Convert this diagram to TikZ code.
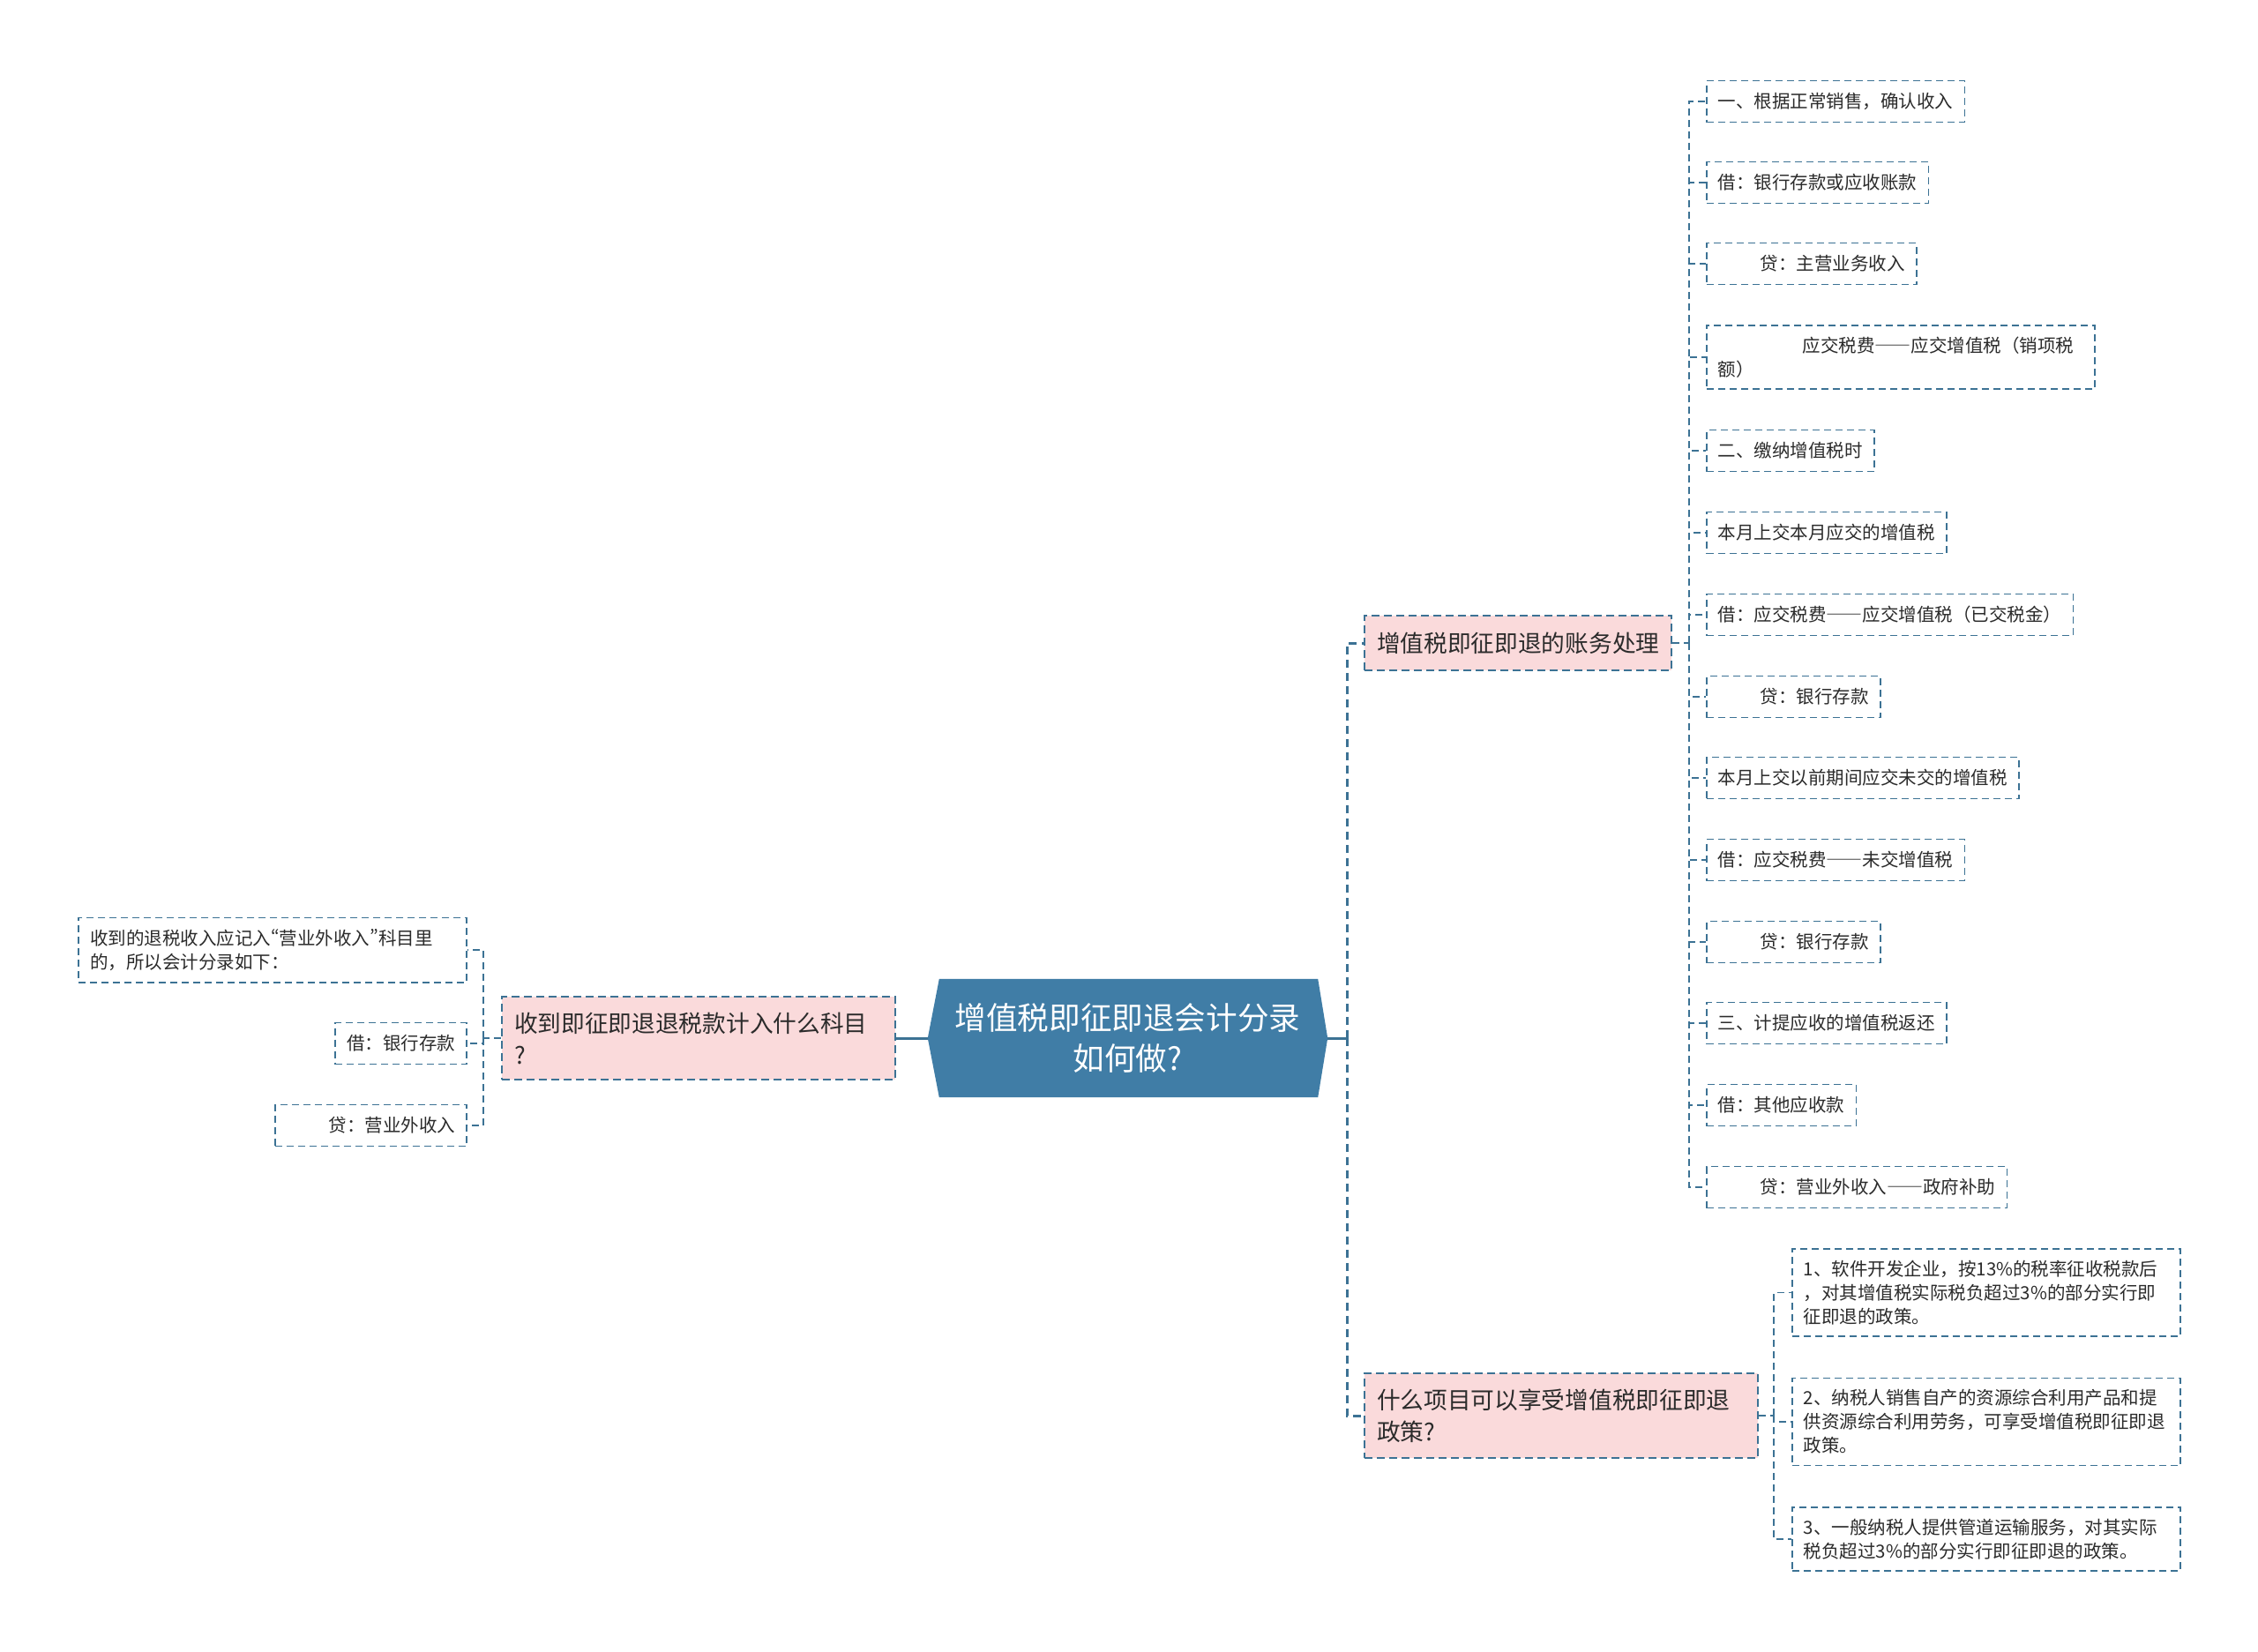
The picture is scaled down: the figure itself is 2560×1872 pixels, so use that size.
\documentclass[tikz,border=0pt]{standalone}
\usepackage{fontspec}
\setmainfont{Noto Sans CJK SC}
\usetikzlibrary{backgrounds}
\definecolor{lc}{HTML}{3C7294}
\definecolor{rootc}{HTML}{407DA6}
\definecolor{pinkc}{HTML}{FADADB}
\definecolor{txt}{HTML}{2B2B2B}
\newcommand{\fwdash}{{\addfontfeatures{CharacterWidth=Full}——}}
\newcommand{\pq}[1]{{\addfontfeatures{CharacterWidth=Proportional}#1}}
\begin{document}
\begin{tikzpicture}[x=1pt,y=-1pt,
  lvtwo/.style={draw=lc, line width=1.8pt, dash pattern=on 8pt off 5pt, inner xsep=13pt, inner ysep=13pt, minimum height=47pt, font=\fontsize{20.5pt}{27pt}\selectfont, text=txt, align=left},
  lvone/.style={draw=lc, fill=pinkc, line width=2pt, dash pattern=on 9pt off 5pt, inner xsep=14pt, inner ysep=17.5pt, minimum height=62pt, font=\fontsize{26.7pt}{36pt}\selectfont, text=txt, align=left},
  rootnode/.style={minimum width=453pt, minimum height=134pt, inner sep=0pt, font=\fontsize{35.6pt}{46pt}\selectfont, text=white, align=center},
  conA/.style={draw=lc, line width=3pt, dash pattern=on 9pt off 6pt},
  conAsolid/.style={draw=lc, line width=3pt},
  conB/.style={draw=lc, line width=1.8pt, dash pattern=on 8pt off 5pt},
]
\useasboundingbox (0,0) rectangle (2560,1872);

% root
\node[rootnode] (root) at (1278.5,1177) {增值税即征即退会计分录\\如何做?};
\begin{scope}[on background layer]
\fill[white] (0,0) rectangle (2560,1872);
\fill[rootc] (root.west) -- ([xshift=13pt]root.north west) -- ([xshift=-11pt]root.north east) -- (root.east) -- ([xshift=-11pt]root.south east) -- ([xshift=13pt]root.south west) -- cycle;
\end{scope}

% level 1
\node[lvone, anchor=west] (n1) at (1546,729) {增值税即征即退的账务处理};
\node[lvone, anchor=west, text width=418pt] (n2) at (568,1177) {收到即征即退退税款计入什么科目\\?};
\node[lvone, anchor=west, text width=418pt] (n3) at (1546,1605) {什么项目可以享受增值税即征即退\\政策?};

% level 2 under n1
\node[lvtwo, anchor=west] (a) at (1934,115) {一、根据正常销售，确认收入};
\node[lvtwo, anchor=west] (b) at (1934,207) {借：银行存款或应收账款};
\node[lvtwo, anchor=west] (c) at (1934,299) {\hspace*{48pt}贷：主营业务收入};
\node[lvtwo, anchor=west, text width=414pt] (d) at (1934,405) {\hspace*{96pt}应交税费\fwdash 应交增值税（销项税\\额）};
\node[lvtwo, anchor=west] (e) at (1934,511) {二、缴纳增值税时};
\node[lvtwo, anchor=west] (f) at (1934,604) {本月上交本月应交的增值税};
\node[lvtwo, anchor=west] (g) at (1934,697) {借：应交税费\fwdash 应交增值税（已交税金）};
\node[lvtwo, anchor=west] (h) at (1934,790) {\hspace*{48pt}贷：银行存款};
\node[lvtwo, anchor=west] (i) at (1934,882) {本月上交以前期间应交未交的增值税};
\node[lvtwo, anchor=west] (j) at (1934,975) {借：应交税费\fwdash 未交增值税};
\node[lvtwo, anchor=west] (k) at (1934,1068) {\hspace*{48pt}贷：银行存款};
\node[lvtwo, anchor=west] (l) at (1934,1160) {三、计提应收的增值税返还};
\node[lvtwo, anchor=west] (m) at (1934,1253) {借：其他应收款};
\node[lvtwo, anchor=west] (n) at (1934,1346) {\hspace*{48pt}贷：营业外收入\fwdash 政府补助};

% level 2 under n2
\node[lvtwo, anchor=east, text width=414pt] (p) at (530,1077) {收到的退税收入应记入\pq{“}营业外收入\pq{”}科目里\\的，所以会计分录如下：};
\node[lvtwo, anchor=east] (q) at (530,1183) {借：银行存款};
\node[lvtwo, anchor=east] (r) at (530,1276) {\hspace*{48pt}贷：营业外收入};

% level 2 under n3
\node[lvtwo, anchor=west, text width=414pt] (u) at (2031,1465.5) {1、软件开发企业，按13\%的税率征收税款后\\，对其增值税实际税负超过3\%的部分实行即\\征即退的政策。};
\node[lvtwo, anchor=west, text width=414pt] (v) at (2031,1612) {2、纳税人销售自产的资源综合利用产品和提\\供资源综合利用劳务，可享受增值税即征即退\\政策。};
\node[lvtwo, anchor=west, text width=414pt] (w) at (2031,1745) {3、一般纳税人提供管道运输服务，对其实际\\税负超过3\%的部分实行即征即退的政策。};

% connectors root -> level 1
\coordinate (rsp) at (1527,1177);
\draw[conAsolid] (root.east) -- (rsp);
\draw[conA] (rsp) |- (n1.west);
\draw[conA] (rsp) |- (n3.west);
\draw[conAsolid] (root.west) -- (n2.east);

% n1 -> children
\coordinate (s1) at (1915,729);
\draw[conB] (n1.east) -- (s1);
\foreach \c in {a,b,c,d,e,f,g,h,i,j,k,l,m,n} {\draw[conB] (s1) |- (\c.west);}

% n2 -> children
\coordinate (s2) at (548,1177);
\draw[conB] (n2.west) -- (s2);
\foreach \c in {p,q,r} {\draw[conB] (s2) |- (\c.east);}

% n3 -> children
\coordinate (s3) at (2011,1605);
\draw[conB] (n3.east) -- (s3);
\foreach \c in {u,v,w} {\draw[conB] (s3) |- (\c.west);}
\end{tikzpicture}
\end{document}
